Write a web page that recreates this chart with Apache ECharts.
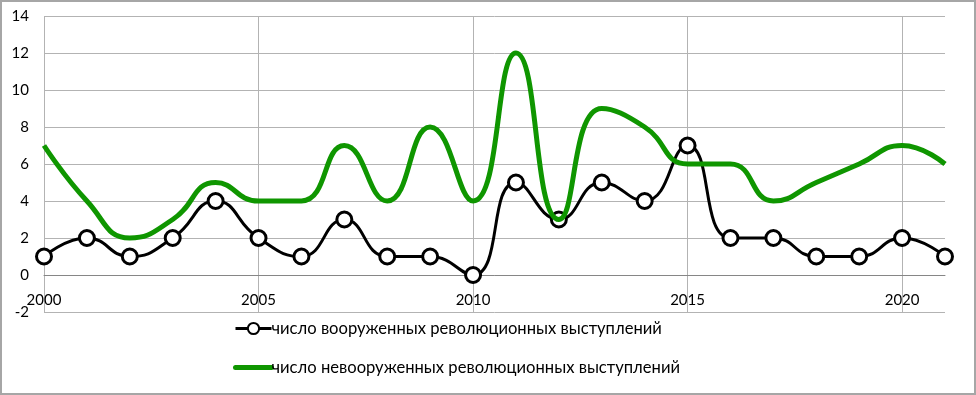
<!DOCTYPE html>
<html><head><meta charset="utf-8">
<script src="https://cdn.jsdelivr.net/npm/echarts@6/dist/echarts.min.js"></script>
<style>html,body{margin:0;padding:0;background:#fff}#c{width:976px;height:395px}</style>
</head><body><div id="c"></div>
<script>
const years = ['2000','2001','2002','2003','2004','2005','2006','2007','2008','2009','2010','2011','2012','2013','2014','2015','2016','2017','2018','2019','2020','2021'];
const armed = [1,2,1,2,4,2,1,3,1,1,0,5,3,5,4,7,2,2,1,1,2,1];
const unarmed = [7,4,2,3,5,4,4,7,4,8,4,12,3,9,8,6,6,4,5,6,7,6];
const nameArmed = 'число вооруженных революционных выступлений';
const nameUnarmed = 'число невооруженных революционных выступлений';
const yTicks = {min:-2, max:14, interval:2};

const FONT = 'Lato, "Noto Sans", sans-serif';
const chart = echarts.init(document.getElementById('c'));
chart.setOption({
  animation:false,
  textStyle:{fontFamily:FONT},
  graphic:[{type:'rect',shape:{x:1,y:1,width:974,height:393},style:{fill:'none',stroke:'#a6a6a6',lineWidth:2},silent:true}],
  grid:{left:44,right:31,top:16,bottom:83},
  legend:{
    orient:'vertical', left:228, top:315, itemGap:22, itemWidth:36, itemHeight:14,
    textStyle:{fontSize:16.6,color:'#000',fontFamily:FONT,padding:[0,0,0,-5]},
    data:[{name:nameArmed,lineStyle:{width:3}},{name:nameUnarmed,itemStyle:{opacity:0},lineStyle:{width:5,cap:'round'}}]
  },
  xAxis:{
    type:'category', data:years, boundaryGap:false, position:'bottom', offset:-37,
    axisLine:{onZero:false,lineStyle:{color:'#868686',width:1}},
    axisTick:{show:false},
    axisLabel:{interval:4,margin:18,fontSize:15,color:'#000',fontFamily:FONT},
    splitLine:{show:true,interval:4,lineStyle:{color:'#b3b3b3',width:1}}
  },
  yAxis:{
    type:'value', min:yTicks.min, max:yTicks.max, interval:yTicks.interval,
    axisLine:{show:false}, axisTick:{show:false},
    axisLabel:{margin:15,fontSize:15,color:'#000',fontFamily:FONT},
    splitLine:{lineStyle:{color:'#b3b3b3',width:1}}
  },
  series:[
    {name:nameArmed,type:'line',data:armed,smooth:0.5,symbol:'circle',symbolSize:15,
     lineStyle:{color:'#000',width:3},itemStyle:{color:'#fff',borderColor:'#000',borderWidth:3},z:2},
    {name:nameUnarmed,type:'line',data:unarmed,smooth:0.5,symbol:'none',
     lineStyle:{color:'#0f9600',width:5},itemStyle:{color:'#0f9600'},z:3}
  ]
});
</script></body></html>
